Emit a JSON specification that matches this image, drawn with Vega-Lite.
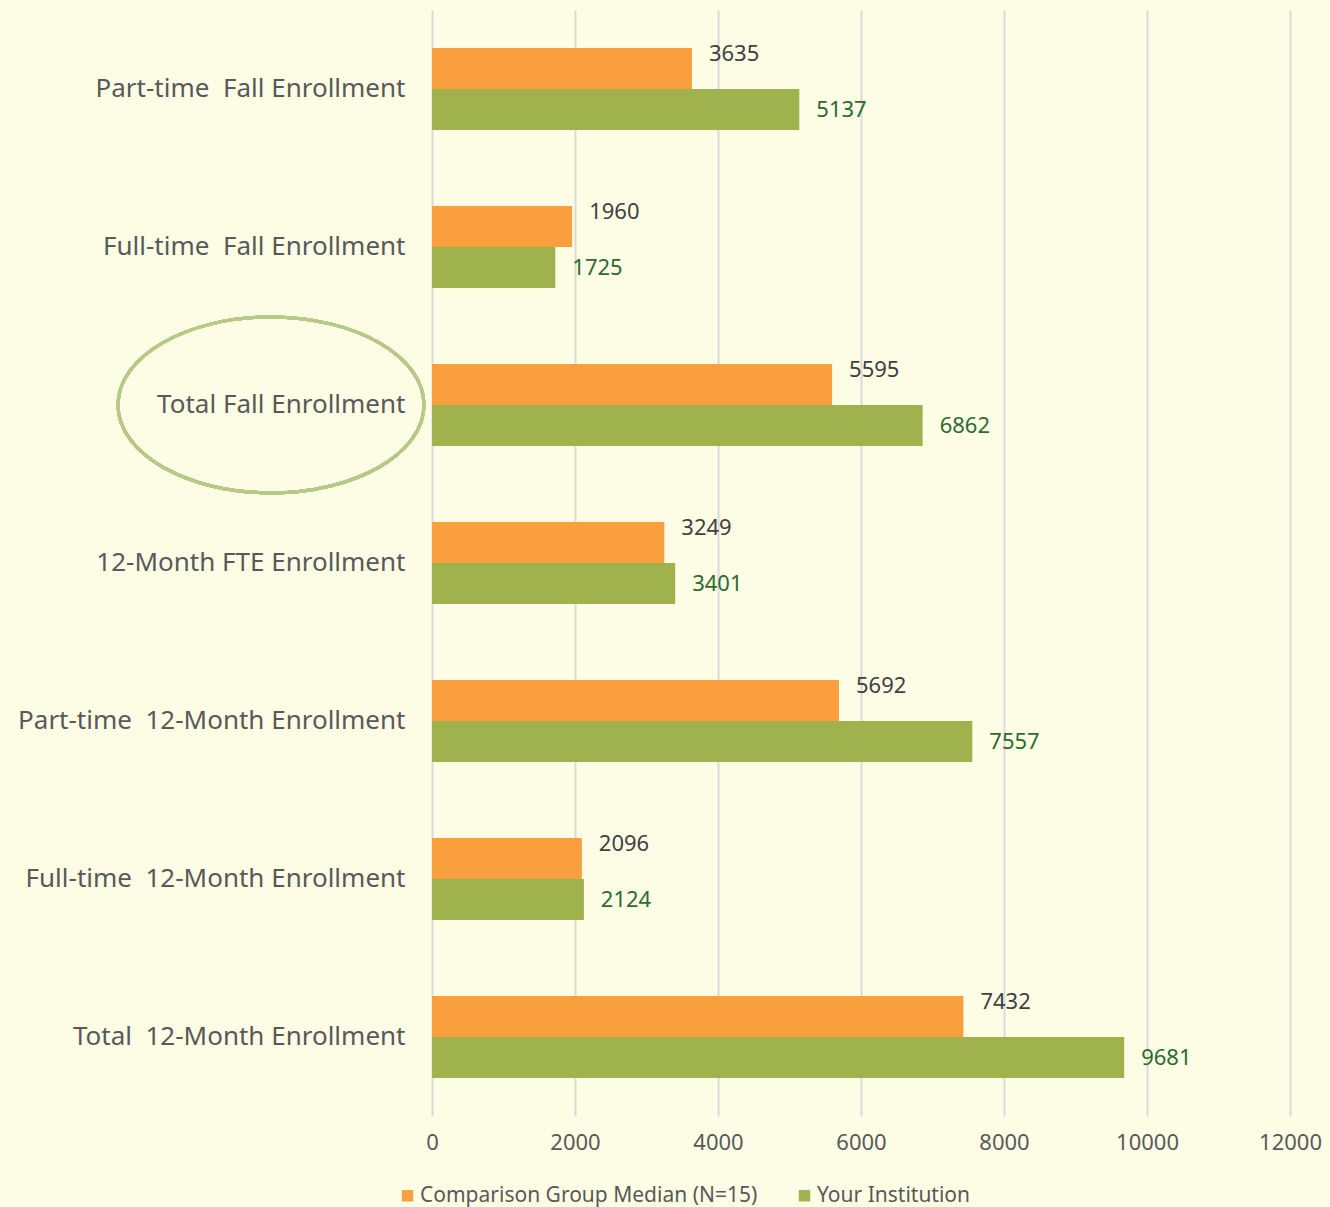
{
  "$schema": "https://vega.github.io/schema/vega-lite/v6.json",
  "autosize": {"type": "none"},
  "width": 858,
  "height": 1106,
  "padding": {"left": 432, "top": 10, "right": 40, "bottom": 91},
  "background": "#fdfde5",
  "config": {
    "view": {"stroke": null},
    "font": "Noto Sans",
    "text": {"font": "Noto Sans"}
  },
  "data": {
    "values": [
      {"category": "Part-time\u00a0 Fall Enrollment", "series": "Comparison Group Median (N=15)", "value": 3635},
      {"category": "Part-time\u00a0 Fall Enrollment", "series": "Your Institution", "value": 5137},
      {"category": "Full-time\u00a0 Fall Enrollment", "series": "Comparison Group Median (N=15)", "value": 1960},
      {"category": "Full-time\u00a0 Fall Enrollment", "series": "Your Institution", "value": 1725},
      {"category": "Total Fall Enrollment", "series": "Comparison Group Median (N=15)", "value": 5595},
      {"category": "Total Fall Enrollment", "series": "Your Institution", "value": 6862},
      {"category": "12-Month FTE Enrollment", "series": "Comparison Group Median (N=15)", "value": 3249},
      {"category": "12-Month FTE Enrollment", "series": "Your Institution", "value": 3401},
      {"category": "Part-time\u00a0 12-Month Enrollment", "series": "Comparison Group Median (N=15)", "value": 5692},
      {"category": "Part-time\u00a0 12-Month Enrollment", "series": "Your Institution", "value": 7557},
      {"category": "Full-time\u00a0 12-Month Enrollment", "series": "Comparison Group Median (N=15)", "value": 2096},
      {"category": "Full-time\u00a0 12-Month Enrollment", "series": "Your Institution", "value": 2124},
      {"category": "Total\u00a0 12-Month Enrollment", "series": "Comparison Group Median (N=15)", "value": 7432},
      {"category": "Total\u00a0 12-Month Enrollment", "series": "Your Institution", "value": 9681}
    ]
  },
  "encoding": {
    "y": {
      "field": "category",
      "type": "nominal",
      "sort": null,
      "scale": {"paddingInner": 0.48, "paddingOuter": 0.24},
      "axis": {
        "title": null,
        "domain": false,
        "ticks": false,
        "labelFontSize": 26,
        "labelColor": "#595959",
        "labelPadding": 27,
        "labelLimit": 600,
        "labelFont": "Noto Sans"
      }
    },
    "yOffset": {"field": "series", "type": "nominal", "sort": null},
    "x": {
      "field": "value",
      "type": "quantitative",
      "scale": {"domain": [0, 12000], "nice": false},
      "axis": {
        "title": null,
        "values": [0, 2000, 4000, 6000, 8000, 10000, 12000],
        "format": "d",
        "grid": true,
        "gridColor": "#d9d9d9",
        "gridWidth": 2,
        "domain": false,
        "ticks": false,
        "labelFontSize": 22,
        "labelColor": "#595959",
        "labelPadding": 16,
        "labelFlush": false,
        "labelFont": "Noto Sans"
      }
    }
  },
  "layer": [
    {
      "mark": {"type": "bar", "stroke": null},
      "encoding": {
        "color": {
          "field": "series",
          "type": "nominal",
          "sort": null,
          "scale": {
            "domain": ["Comparison Group Median (N=15)", "Your Institution"],
            "range": ["#fa9f3d", "#a0b24e"]
          },
          "legend": {
            "title": null,
            "orient": "none",
            "direction": "horizontal",
            "legendX": -35,
            "legendY": 1175,
            "symbolType": "square",
            "symbolSize": 130,
            "symbolStrokeWidth": 0,
            "labelFontSize": 21,
            "labelColor": "#595959",
            "labelFont": "Noto Sans",
            "labelOffset": 2,
            "labelLimit": 600,
            "columnPadding": 36
          }
        }
      }
    },
    {
      "transform": [{"filter": "datum.series == 'Comparison Group Median (N=15)'"}],
      "mark": {"type": "text", "align": "left", "baseline": "middle", "dx": 17, "dy": -14, "fontSize": 22, "color": "#404040"},
      "encoding": {"text": {"field": "value", "type": "quantitative", "format": "d"}}
    },
    {
      "transform": [{"filter": "datum.series == 'Your Institution'"}],
      "mark": {"type": "text", "align": "left", "baseline": "middle", "dx": 17, "dy": 0, "fontSize": 22, "color": "#2e6a2e"},
      "encoding": {"text": {"field": "value", "type": "quantitative", "format": "d"}}
    },
    {
      "mark": {
        "type": "point",
        "shape": "M-1,0A1,0.575,0,1,0,1,0A1,0.575,0,1,0,-1,0Z",
        "filled": false,
        "stroke": "#b7c987",
        "strokeWidth": 3,
        "opacity": 1,
        "size": 93636,
        "clip": false
      },
      "encoding": {
        "x": {"datum": -2252, "type": "quantitative"},
        "y": {"datum": "Total Fall Enrollment", "type": "nominal"},
        "yOffset": {"value": 41}
      }
    }
  ]
}
